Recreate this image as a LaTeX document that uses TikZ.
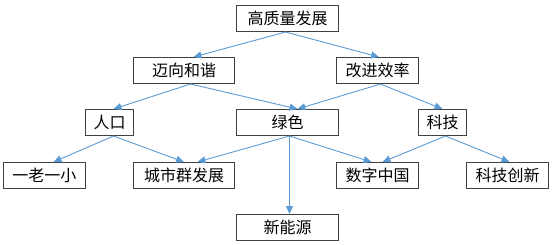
\documentclass[tikz,border=0pt]{standalone}
\usepackage{fontspec}
\newfontfamily\cjk{Noto Sans CJK SC}
\usetikzlibrary{arrows.meta}
\definecolor{boxline}{HTML}{404040}
\definecolor{arr}{HTML}{5B9BD5}
\begin{document}
\begin{tikzpicture}[x=1pt,y=-1pt,
  box/.style={draw=boxline, line width=1pt, minimum height=26pt, inner sep=0pt,
    font=\cjk\fontsize{16}{18}\selectfont, anchor=north west},
  link/.style={draw=arr, line width=0.9pt, -{Triangle[length=8pt,width=7pt]}}]
\useasboundingbox (0,0) rectangle (554,244);
\node[box, minimum width=102pt] (top) at (236,5) {高质量发展};
\node[box, minimum width=101pt] (mx) at (133,57) {迈向和谐};
\node[box, minimum width=82pt] (gj) at (336,57) {改进效率};
\node[box, minimum width=48pt] (rk) at (85,109) {人口};
\node[box, minimum width=102pt] (ls) at (236,109) {绿色};
\node[box, minimum width=48pt] (kj) at (418,109) {科技};
\node[box, minimum width=82pt] (yl) at (3,162) {一老一小};
\node[box, minimum width=101pt] (cs) at (133,162) {城市群发展};
\node[box, minimum width=82pt] (sz) at (336,162) {数字中国};
\node[box, minimum width=82pt] (kc) at (466,162) {科技创新};
\node[box, minimum width=102pt] (xn) at (236,214) {新能源};

\draw[link] ([xshift=-2pt]top.south) -- ([xshift=9.5pt]mx.north);
\draw[link] ([xshift=-2pt]top.south) -- ([xshift=1.5pt]gj.north);
\draw[link] ([xshift=6.5pt]mx.south) -- ([xshift=4pt]rk.north);
\draw[link] ([xshift=6.5pt]mx.south) -- ([xshift=10pt]ls.north);
\draw[link] ([xshift=3pt]gj.south) -- ([xshift=10pt]ls.north);
\draw[link] ([xshift=3pt]gj.south) -- (kj.north);
\draw[link] ([xshift=4pt]rk.south) -- ([xshift=9pt]yl.north);
\draw[link] ([xshift=4pt]rk.south) -- (cs.north);
\draw[link] ([xshift=2pt]ls.south) -- ([xshift=13.5pt]cs.north);
\draw[link] ([xshift=2pt]ls.south) -- ([xshift=2pt]xn.north);
\draw[link] ([xshift=2pt]ls.south) -- ([xshift=-6pt]sz.north);
\draw[link] ([xshift=3pt]kj.south) -- ([xshift=5pt]sz.north);
\draw[link] ([xshift=3pt]kj.south) -- ([xshift=2pt]kc.north);
\end{tikzpicture}
\end{document}
